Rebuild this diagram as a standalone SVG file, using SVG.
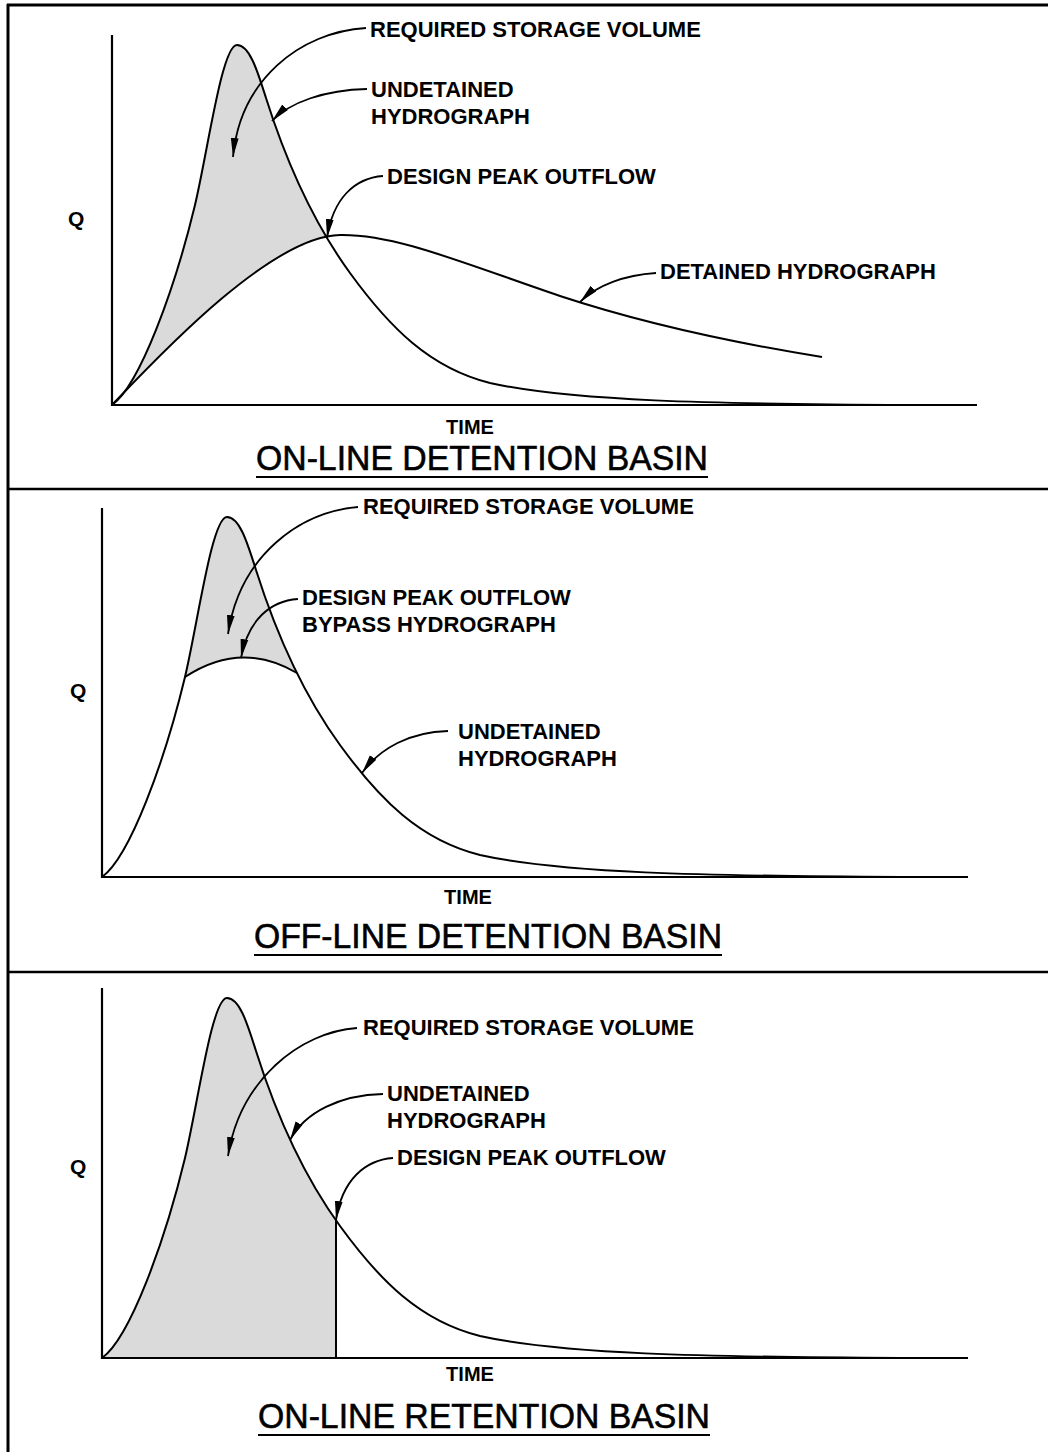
<svg xmlns="http://www.w3.org/2000/svg" xmlns:xlink="http://www.w3.org/1999/xlink" width="1048" height="1452" viewBox="0 0 1048 1452">
<defs>
<style>
.ln{fill:none;stroke:#000;stroke-width:2}
.ax{fill:none;stroke:#000;stroke-width:2.2}
.fr{fill:none;stroke:#000;stroke-width:3}
.dv{fill:none;stroke:#000;stroke-width:2.5}
.ld{fill:none;stroke:#000;stroke-width:1.8;marker-end:url(#ah)}
.sh{fill:#dadada;stroke:none}
.lb{font-family:"Liberation Sans",Arial,sans-serif;font-weight:bold;font-size:22px;fill:#000}
.q{font-family:"Liberation Sans",Arial,sans-serif;font-weight:bold;font-size:21px;fill:#000}
.tm{font-family:"Liberation Sans",Arial,sans-serif;font-weight:bold;font-size:20px;fill:#000;text-anchor:middle}
.tt{font-family:"Liberation Sans",Arial,sans-serif;font-size:35px;fill:#000;stroke:#000;stroke-width:0.6;text-anchor:middle}
</style>
<marker id="ah" markerUnits="userSpaceOnUse" markerWidth="19" markerHeight="9" refX="19" refY="4.5" orient="auto" viewBox="0 0 19 9"><path d="M0,0.6 L19,4.5 L0,8.4 Z" fill="#000"/></marker>
<path id="hy" d="M0,0 C28,-20 63,-117 83,-200 C96,-255 110,-360 125,-360 C138,-360 146,-332 154,-307 C173,-247 198,-187 238,-132 C278,-77 318,-37 378,-22 C458,-4 598,-1 798,0"/>
<clipPath id="c1"><path d="M112,405 C155,360 270,236 340,235 L340,0 L100,0 L100,405 Z"/></clipPath>
<clipPath id="c2"><path d="M185,677 Q241,640 297,673 L297,500 L185,500 Z"/></clipPath>
<clipPath id="c3"><rect x="90" y="900" width="246" height="460"/></clipPath>
</defs>

<g id="frame">
<path class="fr" d="M7,5 H1048 M8,4 V1452"/>
<path class="dv" d="M8,489 H1048 M8,972 H1048"/>
</g>

<g id="panel1">
<g clip-path="url(#c1)"><use xlink:href="#hy" href="#hy" transform="translate(112,405)" class="sh"/></g>
<path class="ax" d="M112,35 V405 H977"/>
<use id="p1-undetained" xlink:href="#hy" href="#hy" transform="translate(112,405)" class="ln"/>
<path id="p1-detained" class="ln" d="M112,405 C155,360 270,236 340,235 C395,234 460,262 560,296 C645,324 735,343 822,357"/>
<text class="q" x="68" y="226">Q</text>
<text class="tm" x="470" y="434">TIME</text>
<text class="tt" x="482" y="470" textLength="452" lengthAdjust="spacingAndGlyphs">ON-LINE DETENTION BASIN</text>
<path class="ln" d="M256,477 H708"/>
<g id="p1-rsv"><text class="lb" x="370" y="37">REQUIRED STORAGE VOLUME</text></g>
<g id="p1-und"><text class="lb" x="371" y="97">UNDETAINED</text><text class="lb" x="371" y="124">HYDROGRAPH</text></g>
<g id="p1-dpo"><text class="lb" x="387" y="184">DESIGN PEAK OUTFLOW</text></g>
<g id="p1-det"><text class="lb" x="660" y="279">DETAINED HYDROGRAPH</text></g>
</g>

<g id="panel2">
<g clip-path="url(#c2)"><use xlink:href="#hy" href="#hy" transform="translate(102,877)" class="sh"/></g>
<path class="ax" d="M102,508 V877 H968"/>
<use id="p2-undetained" xlink:href="#hy" href="#hy" transform="translate(102,877)" class="ln"/>
<path id="p2-bypass" class="ln" d="M185,677 Q241,640 297,673"/>
<text class="q" x="70" y="698">Q</text>
<text class="tm" x="468" y="904">TIME</text>
<text class="tt" x="488" y="948" textLength="468" lengthAdjust="spacingAndGlyphs">OFF-LINE DETENTION BASIN</text>
<path class="ln" d="M254,955 H722"/>
<g id="p2-rsv"><text class="lb" x="363" y="514">REQUIRED STORAGE VOLUME</text></g>
<g id="p2-dpo"><text class="lb" x="302" y="605">DESIGN PEAK OUTFLOW</text><text class="lb" x="302" y="632">BYPASS HYDROGRAPH</text></g>
<g id="p2-und"><text class="lb" x="458" y="739">UNDETAINED</text><text class="lb" x="458" y="766">HYDROGRAPH</text></g>
</g>

<g id="panel3">
<g clip-path="url(#c3)"><use xlink:href="#hy" href="#hy" transform="translate(102,1358)" class="sh"/></g>
<path class="ax" d="M102,988 V1358 H968"/>
<use id="p3-undetained" xlink:href="#hy" href="#hy" transform="translate(102,1358)" class="ln"/>
<path id="p3-outflow" class="ln" d="M336,1220 V1358"/>
<text class="q" x="70" y="1174">Q</text>
<text class="tm" x="470" y="1381">TIME</text>
<text class="tt" x="484" y="1428" textLength="452" lengthAdjust="spacingAndGlyphs">ON-LINE RETENTION BASIN</text>
<path class="ln" d="M258,1435 H710"/>
<g id="p3-rsv"><text class="lb" x="363" y="1035">REQUIRED STORAGE VOLUME</text></g>
<g id="p3-und"><text class="lb" x="387" y="1101">UNDETAINED</text><text class="lb" x="387" y="1128">HYDROGRAPH</text></g>
<g id="p3-dpo"><text class="lb" x="397" y="1165">DESIGN PEAK OUTFLOW</text></g>
</g>

<g id="connectors">
<path class="ld" d="M366,28 C300,32 240,80 233,157"/>
<path class="ld" d="M367,89 C325,90 290,102 272,121"/>
<path class="ld" d="M383,176 C355,178 333,198 327,238"/>
<path class="ld" d="M656,273 C625,275 597,285 580,302"/>
<path class="ld" d="M358,507 C300,512 240,555 228,634"/>
<path class="ld" d="M298,599 C270,601 248,620 241,658"/>
<path class="ld" d="M448,731 C410,732 380,748 362,773"/>
<path class="ld" d="M357,1028 C300,1032 240,1080 228,1156"/>
<path class="ld" d="M383,1094 C340,1095 305,1112 290,1140"/>
<path class="ld" d="M393,1158 C365,1160 342,1180 336,1220"/>
</g>
</svg>
